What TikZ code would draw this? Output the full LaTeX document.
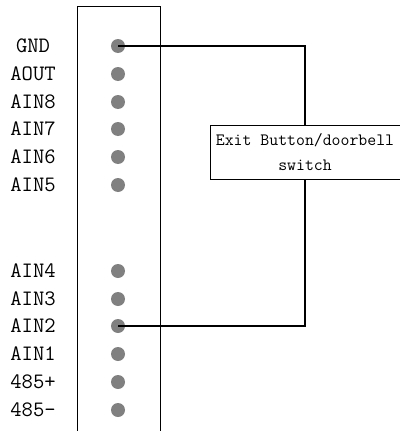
\documentclass[tikz,border=0pt]{standalone}
\usepackage{xcolor}
\usetikzlibrary{positioning}

\begin{document}
\begin{tikzpicture}[
				x=1pt, y=-1pt,
				term/.style={circle, fill=gray, inner sep=0pt, minimum size=14pt},
				pinlabel/.style={font=\fontsize{22}{26}\selectfont\ttfamily, inner sep=0pt},
				block/.style={draw, fill=white, line width=0.9pt, align=center, minimum height=54pt, minimum width=190pt, inner sep=0pt, font=\fontsize{17.3}{25}\selectfont\ttfamily}
			]
				\useasboundingbox (0,0) rectangle (399,431);
				% connector strip, open at the bottom
				\draw[line width=0.9pt] (77,440) |- (160,6) -- (160,440);
				\foreach \i/\name/\y in {1/GND/46, 2/AOUT/74, 3/AIN8/102, 4/AIN7/129, 5/AIN6/157, 6/AIN5/185,
						7/AIN4/271, 8/AIN3/299, 9/AIN2/326, 10/AIN1/354, 11/485+/382, 12/485-/410} {
					\node[term] (t\i) at (118,\y) {};
					\node[pinlabel] (l\i) at (33,\y) {\name};
				}
				\coordinate (bend) at (305,152);
				\draw[line width=1.3pt] (t1.center) -| (bend) |- (t9.center);
				\node[block] (sw) at (bend) {Exit Button/doorbell\\switch};
			\end{tikzpicture}
\end{document}
